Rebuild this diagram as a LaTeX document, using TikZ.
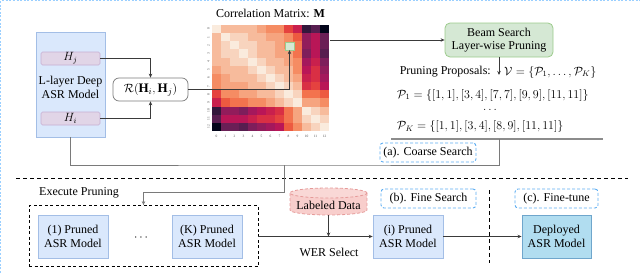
\documentclass[tikz,border=0pt]{standalone}
\usepackage{amsmath}
\usepackage{fontspec}
\setmainfont{Liberation Serif}
\usetikzlibrary{arrows.meta}
\definecolor{h0}{HTML}{FAEBDD}
\definecolor{h1}{HTML}{F8D4BE}
\definecolor{h2}{HTML}{F7BB9C}
\definecolor{h3}{HTML}{F6A47F}
\definecolor{h4}{HTML}{F58C63}
\definecolor{h5}{HTML}{F3734E}
\definecolor{h6}{HTML}{ED5A40}
\definecolor{h7}{HTML}{E5423F}
\definecolor{h8}{HTML}{D92F44}
\definecolor{h9}{HTML}{C9204D}
\definecolor{h10}{HTML}{B91657}
\definecolor{h11}{HTML}{A4185C}
\definecolor{h12}{HTML}{921C5B}
\definecolor{h13}{HTML}{7E1E5B}
\definecolor{h14}{HTML}{6A1F56}
\definecolor{h15}{HTML}{571E50}
\definecolor{h16}{HTML}{451C47}
\definecolor{h17}{HTML}{33183C}
\definecolor{h18}{HTML}{221331}
\definecolor{h19}{HTML}{120B24}
\definecolor{h20}{HTML}{03051A}
\definecolor{fillblue}{HTML}{DAE8FC}
\definecolor{lineblue}{HTML}{A3BEE6}
\definecolor{fillpurple}{HTML}{E1D5E7}
\definecolor{linepurple}{HTML}{C7AFD3}
\definecolor{fillgreen}{HTML}{D5E8D4}
\definecolor{linegreen}{HTML}{9CCB8C}
\definecolor{tagblue}{HTML}{5DADF2}
\definecolor{fillpink}{HTML}{F8CECC}
\definecolor{linepink}{HTML}{E59A99}
\definecolor{filldep}{HTML}{B1DDF0}
\definecolor{linedep}{HTML}{6FA6CC}
\definecolor{darkline}{HTML}{3A3A3A}
\definecolor{grayline}{HTML}{7A7A7A}
\definecolor{outerblue}{HTML}{9ACFFF}
\begin{document}
\begin{tikzpicture}[x=1pt,y=-1pt,
  font=\fontsize{12}{14}\selectfont,
  arr/.style={draw=darkline, line width=0.7pt, -{Stealth[length=4pt,width=3.5pt]}},
  plain/.style={draw=darkline, line width=0.7pt},
  gline/.style={draw=grayline, line width=0.9pt},
  garr/.style={draw=grayline, line width=0.9pt, -{Stealth[length=4pt,width=3.5pt,fill=darkline]}},
  sepline/.style={draw=black, line width=0.8pt, dash pattern=on 4pt off 3pt},
  bigbox/.style={draw=lineblue, fill=fillblue, line width=0.8pt, minimum width=69pt, minimum height=105pt, inner sep=0pt},
  hbox/.style={draw=linepurple, fill=fillpurple, line width=0.7pt, rounded corners=1.5pt, minimum width=59pt, minimum height=13pt, inner sep=0pt},
  rbox/.style={draw=grayline, fill=white, line width=0.7pt, rounded corners=6pt, minimum width=75pt, minimum height=23pt, inner sep=0pt},
  beambox/.style={draw=linegreen, fill=fillgreen, line width=0.8pt, rounded corners=5pt, minimum width=108pt, minimum height=34pt, inner sep=0pt, align=center},
  gsqstyle/.style={draw=linegreen, fill=fillgreen, line width=0.6pt, minimum width=9pt, minimum height=8pt, inner sep=0pt},
  pbox/.style={draw=lineblue, fill=fillblue, line width=0.7pt, minimum width=70pt, minimum height=43pt, inner sep=0pt, align=center},
  depbox/.style={draw=linedep, fill=filldep, line width=0.9pt, minimum width=69pt, minimum height=43pt, inner sep=0pt, align=center},
  tag/.style={draw=tagblue, line width=0.9pt, dash pattern=on 3pt off 2pt, rounded corners=3pt, minimum height=19pt, inner sep=0pt},
  txt/.style={inner sep=0pt},
  tick/.style={inner sep=0pt, font=\fontsize{3.5}{4}\selectfont, text=black!70}
]
\useasboundingbox (0,0) rectangle (640,273);

% outer frame (top and left only)
\coordinate (oBL) at (0.8,273);
\coordinate (oTL) at (0.8,0.8);
\coordinate (oTR) at (640,0.8);
\draw[outerblue, line width=1pt, dash pattern=on 2pt off 1.6pt] (oBL) -- (oTL) -- (oTR);

% ASR model
\node[bigbox] (asr) at (70.5,84.5) {};
\node[hbox] (hj) at (70.5,58.5) {$H_j$};
\node[hbox] (hi) at (70.5,118.5) {$H_i$};
\node[txt, align=center] (asrt) at (70.5,87) {L-layer Deep\\ASR Model};
\node[rbox] (R) at (150.5,89.5) {\fontsize{13}{14}\selectfont$\mathcal{R}(\mathbf{H}_i,\mathbf{H}_j)$};
\draw[arr] (hj.east) -| (R.north);
\draw[arr] (hi.east) -| (R.south);

% heatmap
\foreach \row [count=\r from 0] in {
 {0,2,2,2,2,3,4,4,7,9,17,15,20},
 {2,0,1,1,2,2,3,3,4,6,12,10,14},
 {2,1,0,1,1,2,2,3,4,5,12,10,14},
 {2,1,1,0,1,2,2,3,3,5,13,10,15},
 {2,2,1,1,0,1,2,2,3,4,11,9,13},
 {3,2,2,2,1,0,1,2,2,4,10,8,12},
 {4,3,2,2,2,1,0,1,2,3,9,8,11},
 {4,3,3,3,2,2,1,0,1,2,8,7,10},
 {7,4,4,3,3,2,2,1,0,1,5,5,6},
 {9,6,5,5,4,4,3,2,1,0,3,3,4},
 {17,12,12,13,11,10,9,8,5,3,0,1,2},
 {15,10,10,10,9,8,8,7,5,3,1,0,1},
 {20,14,14,15,13,12,11,10,6,4,2,1,0}} {
  \foreach \v [count=\c from 0] in \row {
    \fill[h\v] ({212+9*\c},{25+8.15*\r}) rectangle ++(9.05,8.2);
  }
}
\foreach \c in {0,...,12} {
  \node[tick] (bx\c) at ({216.5+9*\c},136.5) {\c};
  \node[tick, rotate=90] (ly\c) at (208.5,{29.1+8.15*\c}) {\c};
}
\node[txt] (title) at (270.5,13) {Correlation Matrix: $\mathbf{M}$};
\node[gsqstyle] (gsq) at (289.5,45.8) {};
\draw[arr] (R.east) -| (gsq.south);

% beam search
\node[beambox] (beam) at (499,40) {Beam Search\\[-1pt]Layer-wise Pruning};
\coordinate (hmr) at (330,40);
\draw[arr] (hmr) -- (beam.west);
\coordinate (vtip) at (499,75);
\draw[arr] (beam.south) -- (vtip);
\node[txt, anchor=west] (vset) at (504,72) {$\mathcal{V}=\{\mathcal{P}_1,\ldots,\mathcal{P}_K\}$};
\node[txt, anchor=east] (pp) at (491,72) {Pruning Proposals:};
\node[txt, anchor=west] (p1) at (397,95) {$\mathcal{P}_1=\{[1,1],[3,4],[7,7],[9,9],[11,11]\}$};
\node[txt] (pdots) at (490,110) {$\ldots$};
\node[txt, anchor=west] (pk) at (397,126.5) {$\mathcal{P}_K=\{[1,1],[3,4],[8,9],[11,11]\}$};

% bar and coarse search connections
\coordinate (barL) at (391,139);
\coordinate (barR) at (603,139);
\coordinate (barM) at (499,139);
\draw[draw=black!45, line width=1.4pt] (barL) -- (barR);
\coordinate (jn) at (284,165);
\draw[gline] (asr.south) |- (jn) -| (barM);
\node[tag, minimum width=96pt] (coarse) at (428,152.5) {(a). Coarse Search};

% separator
\coordinate (sepL) at (16,178);
\coordinate (sepR) at (628,178);
\draw[sepline] (sepL) -- (sepR);

% execute pruning
\node[txt, anchor=west] (exlab) at (39,193) {Execute Pruning};
\node[draw=black, line width=0.8pt, dash pattern=on 3pt off 2.5pt, minimum width=229pt, minimum height=61pt, inner sep=0pt] (exec) at (143.5,236) {};
\draw[garr] (jn) -- ++(0,27) -| (exec.north);
\node[pbox] (m1) at (73,236.5) {(1) Pruned\\ASR Model};
\node[txt] (mdots) at (142,238) {$\cdots$};
\node[pbox] (mk) at (207,236.5) {(K) Pruned\\ASR Model};

% labeled data cylinder
\node[minimum width=77pt, minimum height=27pt, inner sep=0pt] (ld) at (328.5,201.5) {};
\fill[fillpink] (290,193) rectangle (367,210);
\fill[fillpink] (328.5,210) ellipse [x radius=38.5pt, y radius=5pt];
\fill[fillpink!80!white] (328.5,193) ellipse [x radius=38.5pt, y radius=5pt];
\draw[linepink, line width=0.8pt, dash pattern=on 3pt off 2pt] (328.5,193) ellipse [x radius=38.5pt, y radius=5pt];
\draw[linepink, line width=0.8pt, dash pattern=on 3pt off 2pt] (290,193) -- (290,210) .. controls (290,212.76) and (307.24,215) .. (328.5,215) .. controls (349.76,215) and (367,212.76) .. (367,210) -- (367,193);
\node[txt] (ldt) at (328.5,205) {Labeled Data};

\node[pbox] (mi) at (408,236.5) {(i) Pruned\\ASR Model};
\draw[arr] (exec.east |- mi.west) -- (mi.west);
\draw[arr] (ld.south) -- (ld.south |- mi.west);
\node[txt] (wer) at (329,252) {WER Select};
\node[tag, minimum width=95pt] (fine) at (428.5,198.5) {(b). Fine Search};

\coordinate (vsT) at (489,190);
\coordinate (vsB) at (489,263);
\draw[sepline] (vsT) -- (vsB);

\node[depbox] (dep) at (556.5,236.5) {Deployed\\ASR Model};
\draw[arr] (mi.east) -- (dep.west);
\node[tag, minimum width=83pt] (ft) at (556.5,198.5) {(c). Fine-tune};
\end{tikzpicture}
\end{document}
